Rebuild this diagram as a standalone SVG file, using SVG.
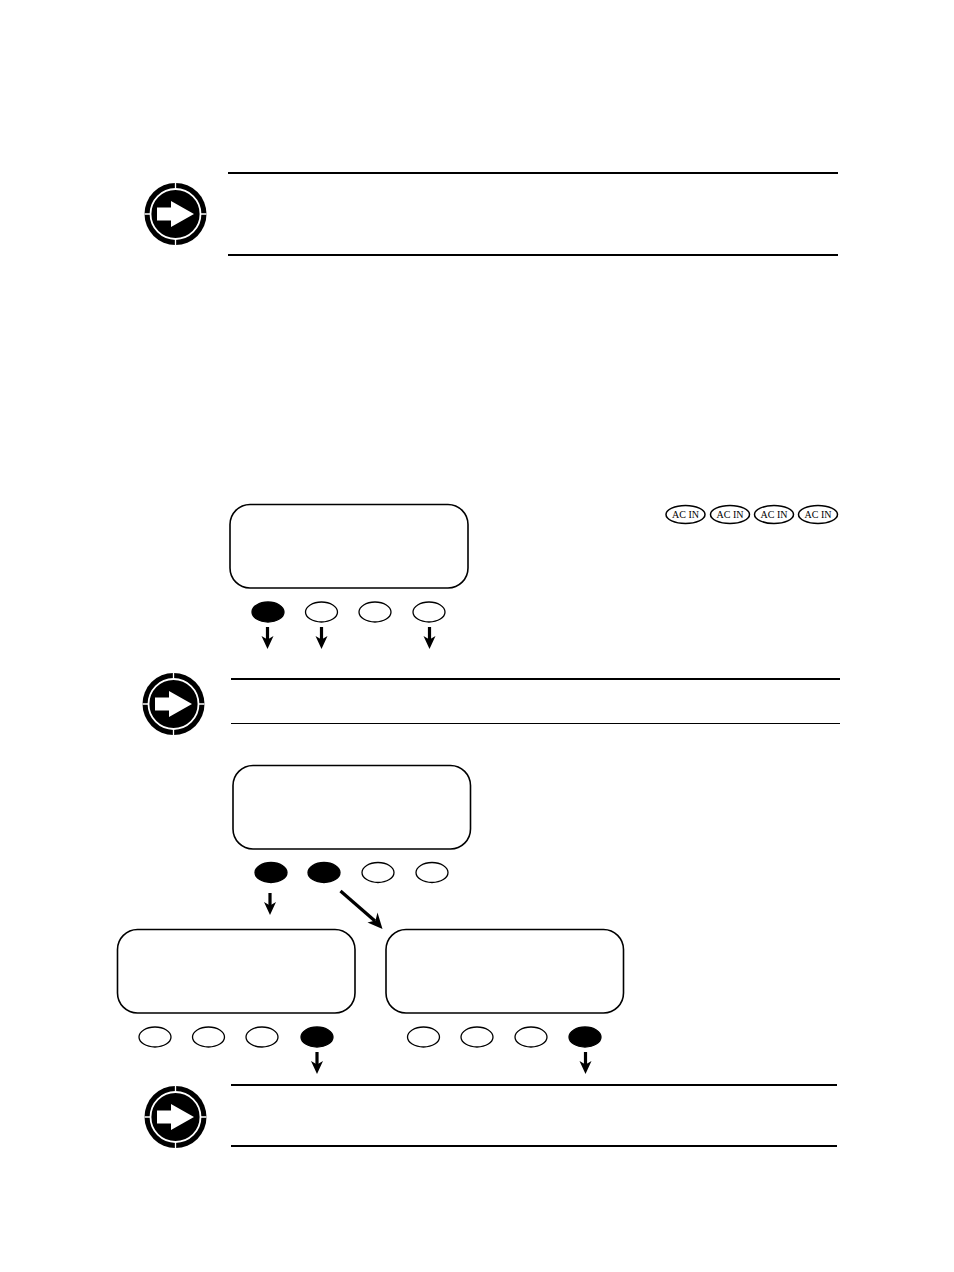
<svg xmlns="http://www.w3.org/2000/svg" width="954" height="1272" viewBox="0 0 954 1272">
<style>
.bg{fill:#fff}
.rule{stroke:#000;stroke-width:2;fill:none}
.thin{stroke:#000;stroke-width:1;fill:none}
.panel{fill:#fff;stroke:#000;stroke-width:1.6}
.off{fill:#fff;stroke:#000;stroke-width:1.3}
.on{fill:#000;stroke:#000;stroke-width:1.3}
.arrow{stroke:#000;stroke-width:3.200;fill:none}
.head{fill:#000}
.led{fill:#fff;stroke:#000;stroke-width:1.500}
.ledt{font-family:"Liberation Serif",serif;font-size:10px;text-anchor:middle;fill:#000}
</style>
<defs>
<g id="note-icon">
<circle r="31" fill="#000"/>
<circle r="25" fill="none" stroke="#fff" stroke-width="1.800"/>
<path d="M0-31V-25M0 25V31M-31 0H-25M25 0H31" stroke="#fff" stroke-width="1.300"/>
<path d="M-18.500-6.500H-4.500V-13L18.500 0L-4.500 13V6.500H-18.500Z" fill="#fff"/>
</g>
<g id="down-arrow">
<path class="arrow" d="M0 0V13"/>
<path class="head" d="M-6 9L0 22L6 9L0 12.500Z"/>
</g>
</defs>
<rect class="bg" width="954" height="1272"/>

<g id="note-1">
<use href="#note-icon" x="175.500" y="214"/>
<path class="rule" d="M228 173H838M228 255H838"/>
</g>
<g id="note-2">
<use href="#note-icon" x="173.500" y="704"/>
<path class="rule" d="M231 679H840"/>
<path class="thin" d="M231 723.500H840"/>
</g>
<g id="note-3">
<use href="#note-icon" x="175.500" y="1117"/>
<path class="rule" d="M231 1085H837M231 1146H837"/>
</g>

<g id="led-row">
<ellipse class="led" cx="685.500" cy="514.500" rx="19.500" ry="9"/>
<ellipse class="led" cx="730" cy="514.500" rx="19.500" ry="9"/>
<ellipse class="led" cx="774" cy="514.500" rx="19.500" ry="9"/>
<ellipse class="led" cx="818" cy="514.500" rx="19.500" ry="9"/>
<text class="ledt" x="685.500" y="518">AC IN</text>
<text class="ledt" x="730" y="518">AC IN</text>
<text class="ledt" x="774" y="518">AC IN</text>
<text class="ledt" x="818" y="518">AC IN</text>
</g>

<g id="display-1">
<rect class="panel" x="230" y="504.500" width="238" height="83.500" rx="20"/>
<ellipse class="on" cx="268" cy="612" rx="16" ry="10"/>
<ellipse class="off" cx="321.500" cy="612" rx="16" ry="10"/>
<ellipse class="off" cx="375" cy="612" rx="16" ry="10"/>
<ellipse class="off" cx="429" cy="612" rx="16" ry="10"/>
</g>
<g id="display-2">
<rect class="panel" x="233" y="765.500" width="237.500" height="83.500" rx="20"/>
<ellipse class="on" cx="271" cy="872.500" rx="16" ry="10"/>
<ellipse class="on" cx="324" cy="872.500" rx="16" ry="10"/>
<ellipse class="off" cx="378" cy="872.500" rx="16" ry="10"/>
<ellipse class="off" cx="432" cy="872.500" rx="16" ry="10"/>
</g>
<g id="display-3">
<rect class="panel" x="117.500" y="929.500" width="237.500" height="83.500" rx="20"/>
<ellipse class="off" cx="155" cy="1037" rx="16" ry="10"/>
<ellipse class="off" cx="208.500" cy="1037" rx="16" ry="10"/>
<ellipse class="off" cx="262" cy="1037" rx="16" ry="10"/>
<ellipse class="on" cx="317" cy="1037" rx="16" ry="10"/>
</g>
<g id="display-4">
<rect class="panel" x="386" y="929.500" width="237.500" height="83.500" rx="20"/>
<ellipse class="off" cx="423.500" cy="1037" rx="16" ry="10"/>
<ellipse class="off" cx="477" cy="1037" rx="16" ry="10"/>
<ellipse class="off" cx="531" cy="1037" rx="16" ry="10"/>
<ellipse class="on" cx="585" cy="1037" rx="16" ry="10"/>
</g>

<g id="connectors">
<use href="#down-arrow" x="267.500" y="627"/>
<use href="#down-arrow" x="321.500" y="627"/>
<use href="#down-arrow" x="429.500" y="627"/>
<use href="#down-arrow" x="270" y="893"/>
<use href="#down-arrow" x="317" y="1052"/>
<use href="#down-arrow" x="585.500" y="1052"/>
<path class="arrow" d="M340.500 891L375 921"/>
<path class="head" d="M382.500 929L367.500 922.500L375.500 920.500L377.500 912.500Z"/>
</g>
</svg>
